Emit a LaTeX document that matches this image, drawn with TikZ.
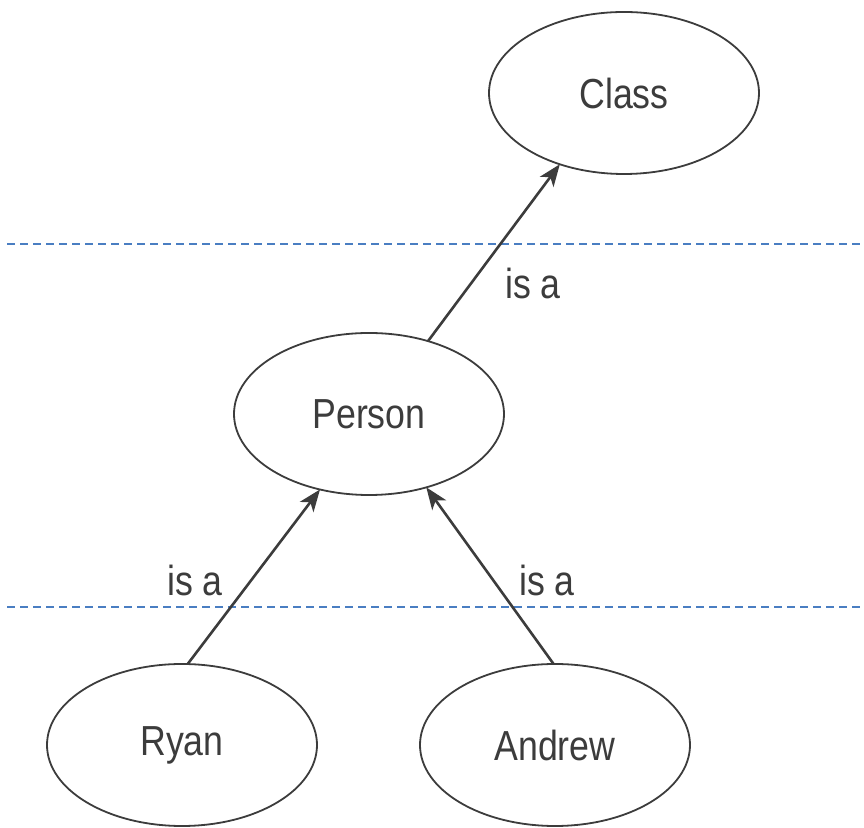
\documentclass[tikz,border=0pt]{standalone}
\usepackage{fontspec}
\setmainfont{Liberation Sans}[FakeStretch=0.85]
\usetikzlibrary{
  arrows.meta,
  shapes.geometric
}
\definecolor{inkgray}{HTML}{3C3C3C}
\definecolor{levelblue}{HTML}{4A7EC2}

\begin{document}
\begin{tikzpicture}[
  x=0.5pt, y=-0.5pt,
  concept/.style={draw=inkgray, ellipse, line width=0.9pt, inner sep=0pt, outer sep=0pt,
    minimum width=135pt, minimum height=81pt, text=inkgray, font=\fontsize{21}{25}\selectfont},
  isa/.style={-{Stealth[length=11pt, width=8.5pt, inset=3pt]}, draw=inkgray, line width=1.3pt},
  lbl/.style={text=inkgray, font=\fontsize{21}{25}\selectfont},
  level/.style={draw=levelblue, line width=0.75pt, dash pattern=on 4pt off 2.5pt},
]
  \useasboundingbox (0,0) rectangle (864,828);

  % Level separators
  \draw[level] (7,244) -- (862,244);
  \draw[level] (7,607) -- (862,607);

  % Concepts
  \node[concept] (class)  at (624,93)  {Class};
  \node[concept] (person) at (369,414) {Person};
  \node[concept] (ryan)   at (182,745) {Ryan};
  \node[concept] (andrew) at (555,745) {Andrew};

  % is-a links
  \draw[isa] (person.51) -- (class.228);
  \draw[isa] (ryan.86) -- (person.237);
  \draw[isa] (andrew.91) -- (person.308);

  % Link labels
  \node[lbl] (isa1) at (533,283) {is a};
  \node[lbl] (isa2) at (195,580) {is a};
  \node[lbl] (isa3) at (547,580) {is a};
\end{tikzpicture}
\end{document}
